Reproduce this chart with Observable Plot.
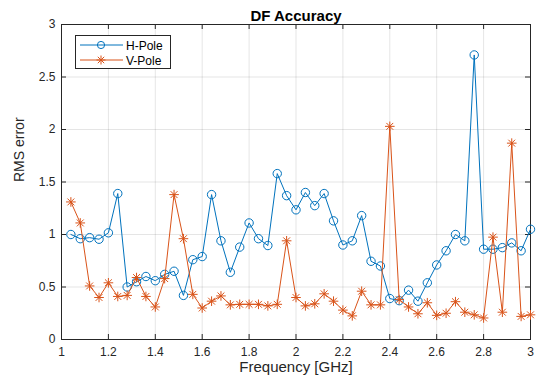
<!DOCTYPE html>
<html><head><meta charset="utf-8">
<script src="https://cdn.jsdelivr.net/npm/d3@7"></script>
<script src="https://cdn.jsdelivr.net/npm/@observablehq/plot@0.6"></script>
<style>
body{margin:0;background:#fff;font-family:"Liberation Sans",Arial,sans-serif;}
#wrap{position:relative;width:539px;height:379px;}
#legend{position:absolute;left:75px;top:35px;}
</style></head>
<body><div id="wrap"></div>
<script>
const freq = [1.04,1.08,1.12,1.16,1.20,1.24,1.28,1.32,1.36,1.40,1.44,1.48,1.52,1.56,1.60,1.64,1.68,1.72,1.76,1.80,1.84,1.88,1.92,1.96,2.00,2.04,2.08,2.12,2.16,2.20,2.24,2.28,2.32,2.36,2.40,2.44,2.48,2.52,2.56,2.60,2.64,2.68,2.72,2.76,2.80,2.84,2.88,2.92,2.96,3.00];
const hPole = [1.00,0.96,0.97,0.955,1.016,1.39,0.50,0.55,0.60,0.56,0.62,0.65,0.42,0.76,0.79,1.38,0.94,0.64,0.88,1.11,0.96,0.895,1.58,1.37,1.235,1.40,1.275,1.39,1.13,0.90,0.94,1.18,0.745,0.70,0.39,0.37,0.47,0.365,0.54,0.71,0.845,1.00,0.94,2.71,0.86,0.86,0.875,0.92,0.845,1.05];
const vPole = [1.31,1.11,0.51,0.40,0.54,0.41,0.42,0.59,0.41,0.31,0.58,1.38,0.96,0.43,0.30,0.365,0.415,0.33,0.335,0.335,0.335,0.32,0.335,0.94,0.40,0.32,0.34,0.435,0.365,0.28,0.225,0.46,0.33,0.33,2.03,0.38,0.31,0.245,0.35,0.23,0.25,0.36,0.26,0.235,0.205,0.975,0.26,1.87,0.22,0.235];
const xTicks = [1,1.2,1.4,1.6,1.8,2,2.2,2.4,2.6,2.8,3];
const yTicks = [0,0.5,1,1.5,2,2.5,3];
const seriesNames = ["H-Pole","V-Pole"];
const colors = ["#0072BD","#D95319"];
const title = "DF Accuracy";
const xLabel = "Frequency [GHz]";
const yLabel = "RMS error";

const H = freq.map((f,i)=>({f, v:hPole[i]}));
const V = freq.map((f,i)=>({f, v:vPole[i]}));

const W=539, HT=379, mL=61, mR=9, mT=24, mB=40;
const fw = W-mL-mR, fh = HT-mT-mB;
const tk = 5;
const axisColor = "#262626";
const fmt = d=>String(d);

const plot = Plot.plot({
  width: W, height: HT,
  marginLeft: mL, marginRight: mR, marginTop: mT, marginBottom: mB,
  style: {fontFamily: '"Liberation Sans", Arial, sans-serif', fontSize: "12px", color: axisColor, background: "#fff"},
  x: {domain: [1,3]},
  y: {domain: [0,3]},
  marks: [
    Plot.gridX(xTicks, {stroke: "#000", strokeOpacity: 0.1}),
    Plot.gridY(yTicks, {stroke: "#000", strokeOpacity: 0.1}),
    Plot.axisX(xTicks, {tickSize: 0, tickPadding: 8, label: null, fontSize: 12, tickFormat: fmt}),
    Plot.axisY(yTicks, {tickSize: 0, tickPadding: 6, label: null, fontSize: 12, tickFormat: fmt}),
    Plot.tickX(xTicks, {x: d=>d, stroke: axisColor, insetTop: fh-tk}),
    Plot.tickX(xTicks, {x: d=>d, stroke: axisColor, insetBottom: fh-tk}),
    Plot.tickY(yTicks, {y: d=>d, stroke: axisColor, insetRight: fw-tk}),
    Plot.tickY(yTicks, {y: d=>d, stroke: axisColor, insetLeft: fw-tk}),
    Plot.frame({stroke: axisColor}),
    Plot.line(H, {x:"f", y:"v", stroke: colors[0], strokeWidth: 1}),
    Plot.dot(H, {x:"f", y:"v", stroke: colors[0], r: 4.2, strokeWidth: 1, fill: "none"}),
    Plot.line(V, {x:"f", y:"v", stroke: colors[1], strokeWidth: 1}),
    Plot.dot(V, {x:"f", y:"v", stroke: colors[1], symbol: "plus", r: 3.2, strokeWidth: 1}),
    Plot.dot(V, {x:"f", y:"v", stroke: colors[1], symbol: "times", r: 3.2, strokeWidth: 1}),
    Plot.text([title], {frameAnchor: "top", dy: -14, fontWeight: "bold", fontSize: 15, fill: "#000"}),
    Plot.text([xLabel], {frameAnchor: "bottom", dy: 32, fontSize: 15, fill: axisColor}),
    Plot.text([yLabel], {frameAnchor: "left", dx: -42, rotate: -90, fontSize: 14, fill: axisColor})
  ]
});
const wrap = document.getElementById("wrap");
wrap.appendChild(plot);

// legend
const lg = d3.select(wrap).append("svg").attr("id","legend").attr("width",97).attr("height",35);
lg.append("rect").attr("x",0.5).attr("y",0.5).attr("width",95).attr("height",33).attr("fill","#fff").attr("stroke",axisColor);
seriesNames.forEach((name,i)=>{
  const y = 10 + i*15;
  const g = lg.append("g").attr("stroke",colors[i]).attr("fill","none");
  g.append("line").attr("x1",5).attr("x2",48).attr("y1",y).attr("y2",y);
  if(i===0){ g.append("circle").attr("cx",26).attr("cy",y).attr("r",3.6); }
  else {
    const s=d3.symbol(d3.symbolPlus, Math.PI*3*3)(); const t=d3.symbol(d3.symbolTimes, Math.PI*3*3)();
    g.append("path").attr("d",s).attr("transform",`translate(26,${y})`);
    g.append("path").attr("d",t).attr("transform",`translate(26,${y})`);
  }
  lg.append("text").attr("x",51).attr("y",y+4.5).attr("font-size",12).attr("fill","#000").text(name);
});
</script></body></html>
